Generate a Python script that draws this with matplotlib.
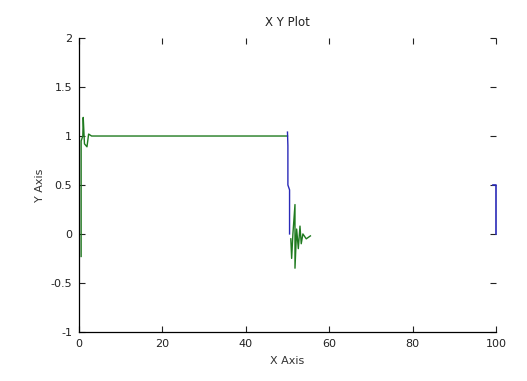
#!/usr/bin/env python3
import matplotlib
matplotlib.use("Agg")
import matplotlib.pyplot as plt

# Green signal: start-up transient, plateau at 1, then ringing around 0
green_x1 = [0.5, 0.5, 0.9, 1.0, 1.3, 1.9, 2.3, 3.0, 50.0]
green_y1 = [-0.23, 0.95, 1.0, 1.19, 0.92, 0.89, 1.02, 1.0, 1.0]
green_x2 = [50.8, 51.0, 51.3, 51.8, 51.8, 52.2, 52.6, 53.0, 53.3, 53.7, 54.5, 55.5]
green_y2 = [-0.05, -0.25, 0.0, 0.3, -0.35, 0.05, -0.15, 0.08, -0.1, 0.0, -0.05, -0.02]

# Blue signal: drop at x=50 and short piece at x=100
blue_x1 = [50.0, 50.1, 50.1, 50.5, 50.5]
blue_y1 = [1.04, 0.9, 0.5, 0.45, 0.0]
blue_x2 = [99.2, 100.0, 100.0]
blue_y2 = [0.5, 0.5, 0.0]

xticks = [0, 20, 40, 60, 80, 100]
yticks = [-1, -0.5, 0, 0.5, 1, 1.5, 2]
yticklabels = ["-1", "-0.5", "0", "0.5", "1", "1.5", "2"]


def main():
    fig = plt.figure(figsize=(5.27, 3.81), dpi=100)
    ax = fig.add_axes([0.150, 0.129, 0.791, 0.771])

    green = "#1f7a1f"
    blue = "#2a2ab8"
    ax.plot(green_x1, green_y1, color=green, lw=1.0)
    ax.plot(blue_x1, blue_y1, color=blue, lw=1.0)
    ax.plot(green_x2, green_y2, color=green, lw=1.0)
    ax.plot(blue_x2, blue_y2, color=blue, lw=1.2, clip_on=False, zorder=5)

    ax.set_xlim(0, 100)
    ax.set_ylim(-1, 2)
    ax.set_xticks(xticks)
    ax.set_yticks(yticks)
    ax.set_yticklabels(yticklabels)

    ax.spines["top"].set_visible(False)
    ax.spines["right"].set_visible(False)
    ax.spines["left"].set_linewidth(0.9)
    ax.spines["bottom"].set_linewidth(0.9)
    ax.tick_params(direction="in", length=4, width=0.8, top=True, right=True,
                   labelsize=8, colors="#222222", pad=5)

    ax.set_title("X Y Plot", fontsize=8.5, pad=9, color="#222222")
    ax.set_xlabel("X Axis", fontsize=8, color="#333333", labelpad=5)
    ax.set_ylabel("Y Axis", fontsize=8, color="#333333", labelpad=4)

    fig.savefig("out.png", dpi=100)


if __name__ == "__main__":
    main()
